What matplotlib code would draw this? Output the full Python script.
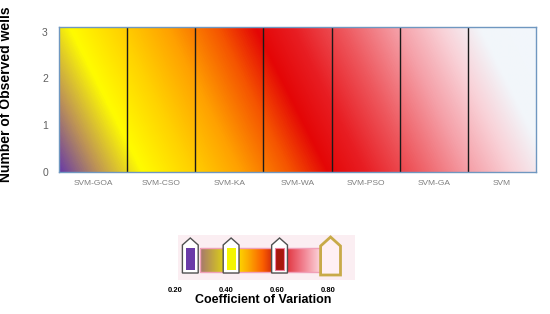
import numpy as np
import matplotlib.pyplot as plt
from matplotlib.colors import LinearSegmentedColormap
from matplotlib.patches import Rectangle, Polygon
from matplotlib.path import Path

plt.rcParams['font.family'] = ['Liberation Sans', 'DejaVu Sans']

# data
models = ['SVM-GOA', 'SVM-CSO', 'SVM-KA', 'SVM-WA', 'SVM-PSO', 'SVM-GA', 'SVM']
wells = [3.1, 3.1, 3.1, 3.1, 3.1, 3.1, 3.1]
y_ticks = [0, 1, 2, 3]
cv_ticks = [0.20, 0.40, 0.60, 0.80]
cv_labels = ['0.20', '0.40', '0.60', '0.80']
cv_handles = [0.26, 0.42, 0.61, 0.81]
handle_colors = ['#6a3aa8', '#f5f500', '#a8170c', '#fff0f4']

# diagonal fill colours (purple -> yellow -> orange -> red -> pink -> white)
fill_stops = [
    (0.00, (105, 60, 165)),
    (0.07, (190, 148, 85)),
    (0.15, (255, 252, 0)),
    (0.24, (255, 210, 0)),
    (0.33, (255, 160, 0)),
    (0.42, (245, 85, 0)),
    (0.49, (228, 6, 6)),
    (0.56, (232, 30, 35)),
    (0.65, (238, 88, 94)),
    (0.75, (245, 160, 168)),
    (0.83, (249, 210, 216)),
    (0.90, (242, 246, 250)),
    (1.00, (242, 247, 252)),
]
fill_cmap = LinearSegmentedColormap.from_list(
    'cv_fill', [(p, tuple(v / 255 for v in c)) for p, c in fill_stops])

legend_stops = [
    (0.00, (165, 120, 110)),
    (0.18, (215, 200, 30)),
    (0.27, (255, 240, 0)),
    (0.40, (252, 170, 0)),
    (0.52, (250, 95, 0)),
    (0.62, (200, 30, 15)),
    (0.72, (225, 55, 65)),
    (0.84, (240, 120, 135)),
    (1.00, (252, 215, 222)),
]
legend_cmap = LinearSegmentedColormap.from_list(
    'cv_legend', [(p, tuple(v / 255 for v in c)) for p, c in legend_stops])

fig = plt.figure(figsize=(5.5, 3.14), dpi=100)

# main chart
ax = fig.add_axes([59 / 550, 142 / 314, 477 / 550, 145 / 314])
pos = np.arange(len(models))
ytop = max(wells)
bars = ax.bar(pos, wells, width=1.0, color='none', edgecolor='none')

xs = np.linspace(-0.5, len(models) - 0.5, 500)
ys = np.linspace(0, ytop, 160)
X, Y = np.meshgrid(xs, ys)
t = (((X + 0.5) / len(models)) * 477 + 0.5 * (Y / ytop) * 145) / 549
im = ax.imshow(t, extent=(-0.5, len(models) - 0.5, 0, ytop), origin='lower',
               aspect='auto', cmap=fill_cmap, vmin=0, vmax=1,
               interpolation='bilinear', zorder=1)
clip = Path.make_compound_path(
    *[b.get_path().transformed(b.get_patch_transform()) for b in bars])
im.set_clip_path(clip, ax.transData)

ax.vlines(pos[:-1] + 0.5, 0, wells[:-1], color='#1a1a1a', lw=1, zorder=2)

ax.set_xlim(-0.5, len(models) - 0.5)
ax.set_ylim(0, ytop)
ax.set_xticks(pos)
ax.set_xticklabels(models, fontsize=6, color='#7f7f7f')
ax.set_yticks(y_ticks)
ax.set_yticklabels([str(v) for v in y_ticks], fontsize=7.5, color='#606060')
ax.tick_params(length=0)
ax.tick_params(axis='x', pad=6)
ax.tick_params(axis='y', pad=8)
for sp in ax.spines.values():
    sp.set_color('#6f97c0')
    sp.set_linewidth(1)
    sp.set_zorder(3)
ax.set_ylabel('Number of Observed wells', fontsize=10, fontweight='bold')
ax.yaxis.set_label_coords(-0.096, 0.54)

# colour scale widget below
lx = fig.add_axes([170 / 550, 4 / 314, 190 / 550, 80 / 314])
lx.set_xlim(0.2 - 5 / 255, 0.2 + 185 / 255)
lx.set_ylim(310, 230)
lx.axis('off')

lx.add_patch(Rectangle((0.212, 235), 0.694, 45, fc='#fbeef2', ec='none'))
lx.imshow(np.linspace(0, 1, 256).reshape(1, -1), extent=(0.298, 0.769, 272, 248),
          aspect='auto', cmap=legend_cmap, interpolation='bilinear', zorder=2)
lx.add_patch(Rectangle((0.298, 248), 0.471, 24, fc='none', ec='#f0a0b8', lw=1,
                       zorder=3))

for i, (c, col) in enumerate(zip(cv_handles, handle_colors)):
    last = i == len(cv_handles) - 1
    hw = 0.039 if last else 0.031
    top, sh, bot = (237, 246, 275) if last else (238, 245, 273)
    pts = [(c - hw, bot), (c - hw, sh), (c, top), (c + hw, sh), (c + hw, bot)]
    if last:
        lx.add_patch(Polygon(pts, closed=True, fc=col, ec='#c8aa48', lw=2,
                             zorder=4))
    else:
        lx.add_patch(Polygon(pts, closed=True, fc='white', ec='#505050',
                             lw=1, zorder=4))
        ec = '#f080a0' if i == 2 else 'none'
        lx.add_patch(Rectangle((c - 0.018, 248), 0.036, 22, fc=col, ec=ec,
                               lw=0.8, zorder=5))

for v, lab in zip(cv_ticks, cv_labels):
    lx.text(v, 290, lab, ha='center', va='center', fontsize=5.5,
            fontweight='bold')
lx.text(0.545, 300, 'Coefficient of Variation', ha='center', va='center',
        fontsize=9, fontweight='bold')

fig.savefig('out.png', dpi=100)
